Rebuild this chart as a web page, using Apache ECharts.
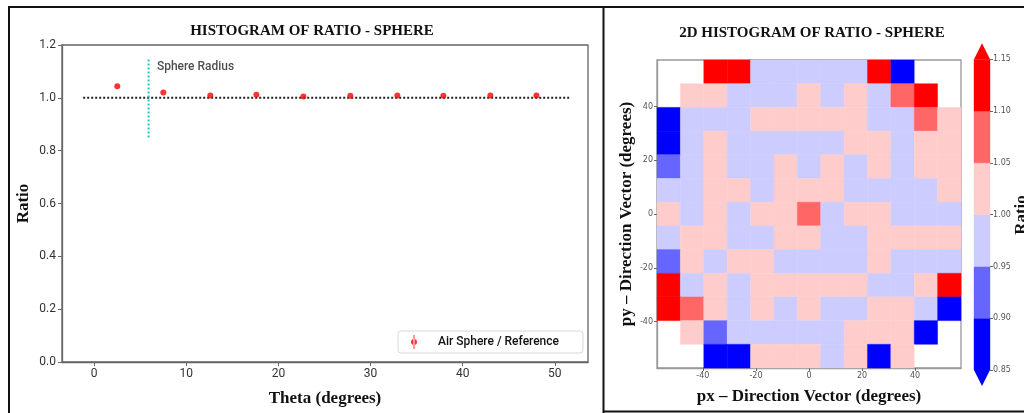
<!DOCTYPE html>
<html>
<head>
<meta charset="utf-8">
<script src="https://cdn.jsdelivr.net/npm/echarts@6/dist/echarts.min.js"></script>
<style>
html,body{margin:0;padding:0;background:#fff;}
#chart{width:1024px;height:413px;}
</style>
</head>
<body>
<div id="chart"></div>
<script>
// ---------- Left panel data ----------
const thetaDeg = [2.5, 7.5, 12.6, 17.6, 22.7, 27.8, 32.9, 37.9, 43.0, 48.0];
const ratioVals = [1.044, 1.020, 1.009, 1.012, 1.005, 1.008, 1.009, 1.008, 1.009, 1.009];
const refLineX = [-1.2, 51.6];
const refLineY = [1.0, 1.0];
const radiusLineX = [5.9, 5.9];
const radiusLineY = [0.85, 1.15];
const radiusLabelPos = [6.8, 1.118];
const thetaTicks = [0, 10, 20, 30, 40, 50];

// ---------- Right panel data ----------
const binEdges = [-57.30, -48.48, -39.67, -30.85, -22.04, -13.22, -4.41, 4.41, 13.22, 22.04, 30.85, 39.67, 48.48, 57.30];
const heatTicks = [-40, -20, 0, 20, 40];
// rows listed from top (py high) to bottom (py low), columns from px low to high
const ratioGrid = [
  [null, null, 1.13, 1.12, 0.98, 0.97, 0.98, 0.99, 0.97, 1.14, 0.86, null, null],
  [null, 1.03, 1.02, 0.98, 0.97, 0.99, 1.02, 0.98, 1.03, 0.97, 1.08, 1.12, null],
  [0.87, 0.98, 0.97, 0.98, 1.02, 1.01, 1.03, 1.02, 1.01, 0.98, 0.97, 1.07, 1.03],
  [0.88, 0.97, 1.02, 0.98, 0.99, 0.98, 0.97, 0.98, 1.02, 1.03, 0.97, 1.02, 1.04],
  [0.93, 0.98, 1.03, 0.97, 0.98, 1.02, 0.99, 1.01, 0.98, 1.02, 0.98, 1.03, 1.02],
  [0.97, 0.98, 1.02, 1.01, 0.98, 1.02, 1.01, 1.02, 0.99, 0.98, 0.97, 0.98, 1.03],
  [1.02, 0.98, 1.01, 0.97, 1.02, 1.03, 1.07, 0.98, 1.02, 1.01, 0.97, 0.98, 0.96],
  [0.97, 1.02, 1.03, 0.98, 0.99, 1.01, 1.02, 0.98, 0.99, 1.02, 1.01, 1.03, 1.02],
  [0.92, 1.03, 0.97, 1.02, 1.01, 0.98, 0.99, 0.98, 0.97, 1.02, 0.98, 0.97, 0.98],
  [1.13, 0.97, 1.02, 0.98, 1.03, 1.01, 1.02, 1.01, 1.03, 0.98, 0.97, 1.02, 1.12],
  [1.14, 1.08, 1.02, 0.97, 1.01, 0.98, 1.03, 0.99, 0.98, 1.02, 1.03, 0.97, 0.87],
  [null, 1.03, 0.93, 0.98, 0.97, 0.98, 0.99, 0.98, 1.02, 1.01, 1.03, 0.86, null],
  [null, null, 0.87, 0.88, 1.02, 1.03, 1.02, 0.98, 1.02, 0.86, 1.03, null, null]
];
const cbLevels = [0.85, 0.90, 0.95, 1.00, 1.05, 1.10, 1.15];
const cbColors = ['#0000ff', '#6666ff', '#ccccff', '#ffcccc', '#ff6666', '#ff0000'];

// ---------- Build series data ----------
const nRows = ratioGrid.length;
const heatData = [];
ratioGrid.forEach(function (row, r) {
  row.forEach(function (v, c) {
    if (v === null) return;
    const yi = nRows - 1 - r;
    heatData.push([binEdges[c], binEdges[c + 1], binEdges[yi], binEdges[yi + 1], v]);
  });
});
const cbData = [];
for (let i = 0; i < cbLevels.length - 1; i++) {
  cbData.push([0, 1, cbLevels[i], cbLevels[i + 1], (cbLevels[i] + cbLevels[i + 1]) / 2, 0]);
}
cbData.push([0, 1, cbLevels[cbLevels.length - 1], cbLevels[cbLevels.length - 1], cbLevels[cbLevels.length - 1] + 0.05, 1]);
cbData.push([0, 1, cbLevels[0], cbLevels[0], cbLevels[0] - 0.05, -1]);

const pieces = [];
for (let i = 0; i < cbColors.length; i++) {
  const p = { color: cbColors[i] };
  if (i > 0) p.gte = cbLevels[i];
  if (i < cbColors.length - 1) p.lt = cbLevels[i + 1];
  pieces.push(p);
}

function renderRect(params, api) {
  const kind = api.value(5);
  const color = api.visual('color');
  if (kind === 1 || kind === -1) {
    const a = api.coord([api.value(0), api.value(2)]);
    const b = api.coord([api.value(1), api.value(2)]);
    const tip = [(a[0] + b[0]) / 2, a[1] - kind * 16];
    return { type: 'polygon', shape: { points: [a, b, tip] }, style: { fill: color } };
  }
  const p0 = api.coord([api.value(0), api.value(3)]);
  const p1 = api.coord([api.value(1), api.value(2)]);
  return {
    type: 'rect',
    shape: { x: p0[0], y: p0[1], width: p1[0] - p0[0], height: p1[1] - p0[1] },
    style: { fill: color, stroke: color, lineWidth: 0.4 }
  };
}

const serifBold = { fontFamily: 'Liberation Serif', fontWeight: 'bold', color: '#111' };
const tickFont = 'Liberation Sans Narrow, Roboto, sans-serif';

const chart = echarts.init(document.getElementById('chart'), null, { renderer: 'canvas' });
chart.setOption({
  animation: false,
  backgroundColor: '#fff',
  grid: [
    { left: 62, top: 45, width: 526, height: 317, show: true, borderColor: '#666', borderWidth: 1.3, backgroundColor: 'transparent' },
    { left: 657, top: 60, width: 304, height: 308, show: true, borderColor: '#999', borderWidth: 1.3, backgroundColor: 'transparent' },
    { left: 974, top: 59.3, width: 16, height: 310.7 }
  ],
  xAxis: [
    {
      gridIndex: 0, type: 'value', min: -3.5, max: 53.6,
      name: 'Theta (degrees)', nameLocation: 'middle', nameGap: 28, nameMoveOverlap: false,
      nameTextStyle: Object.assign({ fontSize: 17 }, serifBold),
      axisLine: { show: true, onZero: false, lineStyle: { color: '#666', width: 1.3 } },
      axisTick: { show: true, length: 4, lineStyle: { color: '#666' }, customValues: thetaTicks },
      axisLabel: { color: '#333', fontSize: 12, fontFamily: tickFont, margin: 6, customValues: thetaTicks },
      splitLine: { show: false }
    },
    {
      gridIndex: 1, type: 'value', min: binEdges[0], max: binEdges[binEdges.length - 1],
      name: 'px \u2013 Direction Vector (degrees)', nameLocation: 'middle', nameGap: 20, nameMoveOverlap: false,
      nameTextStyle: Object.assign({ fontSize: 17 }, serifBold),
      axisLine: { show: true, onZero: false, lineStyle: { color: '#999', width: 1.3 } },
      axisTick: { show: true, length: 3, lineStyle: { color: '#666' }, customValues: heatTicks },
      axisLabel: { color: '#555', fontSize: 8, fontFamily: 'DejaVu Sans', margin: 4, customValues: heatTicks },
      splitLine: { show: false }
    },
    { gridIndex: 2, type: 'value', min: 0, max: 1, show: false }
  ],
  yAxis: [
    {
      gridIndex: 0, type: 'value', min: 0, max: 1.2, interval: 0.2,
      name: 'Ratio', nameLocation: 'middle', nameGap: 30, nameRotate: 90, nameMoveOverlap: false,
      nameTextStyle: Object.assign({ fontSize: 17 }, serifBold),
      axisLine: { show: true, onZero: false, lineStyle: { color: '#666', width: 1.3 } },
      axisTick: { show: true, length: 4, lineStyle: { color: '#666' } },
      axisLabel: { color: '#333', fontSize: 12, fontFamily: tickFont, margin: 6, formatter: function (v) { return v.toFixed(1); } },
      splitLine: { show: false }
    },
    {
      gridIndex: 1, type: 'value', min: binEdges[0], max: binEdges[binEdges.length - 1],
      name: 'py \u2013 Direction Vector (degrees)', nameLocation: 'middle', nameGap: 22, nameRotate: 90, nameMoveOverlap: false,
      nameTextStyle: Object.assign({ fontSize: 17 }, serifBold),
      axisLine: { show: true, onZero: false, lineStyle: { color: '#999', width: 1.3 } },
      axisTick: { show: true, length: 3, lineStyle: { color: '#666' }, customValues: heatTicks },
      axisLabel: { color: '#555', fontSize: 8, fontFamily: 'DejaVu Sans', margin: 4, customValues: heatTicks },
      splitLine: { show: false }
    },
    {
      gridIndex: 2, type: 'value', min: 0.85, max: 1.15, interval: 0.05, position: 'right',
      axisLine: { show: false, onZero: false },
      axisTick: { show: true, length: 3, lineStyle: { color: '#666' } },
      axisLabel: { color: '#555', fontSize: 8, fontFamily: 'DejaVu Sans', margin: 3, formatter: function (v) { return v.toFixed(2); } },
      splitLine: { show: false }
    }
  ],
  visualMap: [{
    type: 'piecewise', show: false, dimension: 4, seriesIndex: [4, 5], pieces: pieces
  }],
  legend: {
    data: ['Air Sphere / Reference'],
    left: 398, top: 331,
    orient: 'vertical',
    padding: [4, 24, 4, 13],
    borderColor: '#d8d8d8', borderWidth: 1, borderRadius: 3,
    backgroundColor: '#fff',
    itemWidth: 6, itemHeight: 14,
    icon: 'path://M2.5,0 L3.5,0 L3.5,14 L2.5,14 Z M0,7 A3,3 0 1 0 6,7 A3,3 0 1 0 0,7 Z',
    textStyle: { color: '#111', fontSize: 12, fontFamily: tickFont, fontWeight: 500, padding: [0, 0, 0, 16] }
  },
  graphic: [
    { type: 'line', shape: { x1: 8, y1: 7, x2: 1024, y2: 7 }, style: { stroke: '#111', lineWidth: 2 } },
    { type: 'line', shape: { x1: 9, y1: 7, x2: 9, y2: 413 }, style: { stroke: '#111', lineWidth: 2 } },
    { type: 'line', shape: { x1: 603.5, y1: 7, x2: 603.5, y2: 413 }, style: { stroke: '#111', lineWidth: 2 } },
    { type: 'line', shape: { x1: 603, y1: 411.5, x2: 1024, y2: 411.5 }, style: { stroke: '#111', lineWidth: 2 } },
    { type: 'text', x: 312, y: 31, style: { text: 'HISTOGRAM OF RATIO - SPHERE', fill: '#111', font: 'bold 15px "Liberation Serif"', textAlign: 'center', textVerticalAlign: 'middle' } },
    { type: 'text', x: 812, y: 33, style: { text: '2D HISTOGRAM OF RATIO - SPHERE', fill: '#111', font: 'bold 15px "Liberation Serif"', textAlign: 'center', textVerticalAlign: 'middle' } },
    { type: 'text', x: 1022, y: 215, rotation: Math.PI / 2, style: { text: 'Ratio', fill: '#111', font: 'bold 17px "Liberation Serif"', textAlign: 'center', textVerticalAlign: 'middle' } }
  ],
  series: [
    {
      type: 'line', xAxisIndex: 0, yAxisIndex: 0, name: 'ref',
      data: refLineX.map(function (x, i) { return [x, refLineY[i]]; }),
      symbol: 'none', lineStyle: { color: '#222', width: 2, type: [2, 2] }, silent: true
    },
    {
      type: 'line', xAxisIndex: 0, yAxisIndex: 0, name: 'radius',
      data: radiusLineX.map(function (x, i) { return [x, radiusLineY[i]]; }),
      symbol: 'none', lineStyle: { color: '#22c4c8', width: 2, type: [2, 2] }, silent: true
    },
    {
      type: 'scatter', xAxisIndex: 0, yAxisIndex: 0, name: 'Air Sphere / Reference',
      data: thetaDeg.map(function (x, i) { return [x, ratioVals[i]]; }),
      symbol: 'circle', symbolSize: 6, itemStyle: { color: '#ff0000' }, z: 5
    },
    {
      type: 'scatter', xAxisIndex: 0, yAxisIndex: 0, name: 'annot',
      data: [radiusLabelPos], symbolSize: 0,
      label: { show: true, position: 'right', distance: 0, formatter: 'Sphere Radius', color: '#222', fontSize: 12, fontFamily: tickFont, fontWeight: 500 }
    },
    {
      type: 'custom', xAxisIndex: 1, yAxisIndex: 1, name: 'heat',
      renderItem: renderRect, data: heatData,
      encode: { x: [0, 1], y: [2, 3] }
    },
    {
      type: 'custom', xAxisIndex: 2, yAxisIndex: 2, name: 'colorbar', clip: false,
      renderItem: renderRect, data: cbData,
      encode: { x: [0, 1], y: [2, 3] }
    }
  ]
});
</script>
</body>
</html>
